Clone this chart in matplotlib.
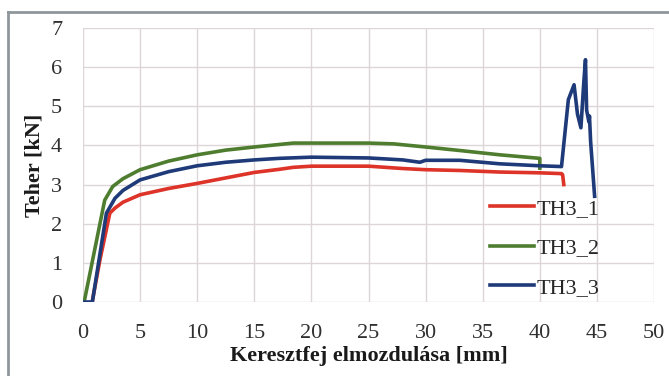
import matplotlib.pyplot as plt
from matplotlib.lines import Line2D

# TH3_1
x1 = [0.8, 1.5, 2.35, 2.8, 3.5, 5, 7.5, 10, 12.5, 15, 17.2, 18.4, 20, 25, 28, 30, 33, 36.5, 40, 41.9, 42.0, 42.1]
y1 = [0, 1.1, 2.27, 2.4, 2.55, 2.74, 2.9, 3.03, 3.17, 3.31, 3.39, 3.44, 3.47, 3.47, 3.41, 3.38, 3.36, 3.32, 3.30, 3.28, 3.25, 3.0]

# TH3_2
x2 = [0.1, 1.0, 1.9, 2.6, 3.5, 5, 7.5, 10, 12.5, 15, 18.4, 25, 27.2, 30, 33, 36.5, 40, 40.0]
y2 = [0, 1.3, 2.6, 2.95, 3.15, 3.38, 3.6, 3.76, 3.88, 3.96, 4.06, 4.06, 4.04, 3.96, 3.87, 3.76, 3.67, 3.42]

# TH3_3
x3 = [0.1, 0.82, 2.05, 2.8, 3.5, 5, 7.5, 10, 12.5, 15, 17.2, 20, 25, 28, 29.5, 30, 33, 36.5, 40, 41.9,
      42.5, 43.0, 43.3, 43.6, 43.85, 44.0, 44.1, 44.2, 44.3, 44.35, 44.45, 44.8]
y3 = [0, 0, 2.27, 2.65, 2.85, 3.12, 3.33, 3.48, 3.57, 3.63, 3.67, 3.70, 3.68, 3.63, 3.57, 3.62, 3.62, 3.53, 3.48, 3.46,
      5.17, 5.55, 4.8, 4.45, 5.6, 6.19, 4.9, 4.75, 4.6, 4.75, 4.1, 2.7]

labels = ['TH3_1', 'TH3_2', 'TH3_3']
colors = ['#dd3328', '#4f7d2f', '#1f3a78']

plt.rcParams['font.family'] = 'Liberation Serif'

fig = plt.figure(figsize=(6.69, 3.76), dpi=100)
ax = fig.add_axes([83 / 669, (376 - 302) / 376, 571 / 669, 274 / 376])

ax.plot(x1, y1, color=colors[0], lw=2.6, label=labels[0], solid_joinstyle='round')
ax.plot(x2, y2, color=colors[1], lw=2.6, label=labels[1], solid_joinstyle='round')
ax.plot(x3, y3, color=colors[2], lw=2.6, label=labels[2], solid_joinstyle='round')

ax.set_xlim(0, 50)
ax.set_ylim(0, 7)
ax.set_xticks(range(0, 51, 5))
ax.set_yticks(range(0, 8))
ax.grid(True, color='#dcd6d6', lw=1.0)
ax.set_axisbelow(True)
for s in ax.spines.values():
    s.set_visible(False)
ax.tick_params(length=0, labelsize=16, colors='#303030')
ax.tick_params(axis='x', pad=16)
ax.tick_params(axis='y', pad=15)

ax.set_xlabel('Keresztfej elmozdulása [mm]', fontsize=16, fontweight='bold', color='#1a1a1a', labelpad=2)
ax.set_ylabel('Teher [kN]', fontsize=16, fontweight='bold', color='#1a1a1a', labelpad=5)

fig.legend(loc='center left', bbox_to_anchor=(490 / 669, (376 - 248) / 376), frameon=False,
           fontsize=16, handlelength=2.0, handletextpad=0.1, labelspacing=0.85,
           borderpad=0, borderaxespad=0, labelcolor='#262626')

# outer frame
fig.add_artist(Line2D([8 / 669, 8 / 669], [0, 1 - 12 / 376], color='#8f979c', lw=2, transform=fig.transFigure))
fig.add_artist(Line2D([8 / 669, 1], [1 - 12 / 376, 1 - 12 / 376], color='#8f979c', lw=2, transform=fig.transFigure))

fig.savefig('out.png', dpi=100)
